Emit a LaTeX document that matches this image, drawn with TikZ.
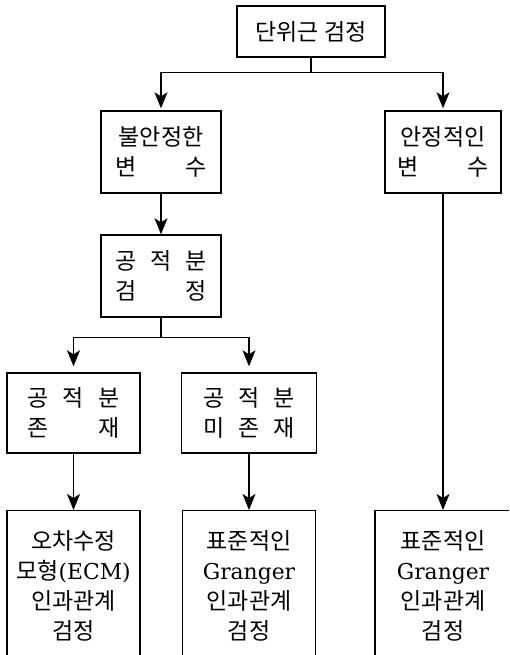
\documentclass[tikz,border=0pt]{standalone}
\usepackage{fontspec}
\setmainfont{Noto Sans CJK KR}
\newfontfamily\lat{DejaVu Serif}[Scale=0.95]
\usetikzlibrary{arrows.meta}
\newcommand{\spreadrow}[1]{\makebox[4em]{#1}}
\tikzset{
	>={Stealth[length=16pt,width=13pt,inset=4pt]},
	box/.style={draw, line width=1.4pt, align=center, inner sep=0pt,
		font=\fontsize{23}{30}\selectfont},
	link/.style={line width=1.2pt}
}
\begin{document}
\begin{tikzpicture}[x=1pt, y=-1pt]
	\useasboundingbox (0,0) rectangle (509,655);
	\clip (0,0) rectangle (509,655);
	% upper part
	\node[box, minimum width=148pt, minimum height=51pt] (root) at (311,31.5) {단위근 검정};
	\node[box, minimum width=120pt, minimum height=82pt] (unst) at (161,152) {불안정한\\\spreadrow{변\hfill 수}};
	\node[box, minimum width=116pt, minimum height=82pt] (stab) at (443,152) {안정적인\\\spreadrow{변\hfill 수}};
	\node[box, minimum width=120pt, minimum height=82pt] (coint) at (161,276) {\spreadrow{공\hfill 적\hfill 분}\\\spreadrow{검\hfill 정}};
	\node[box, minimum width=133pt, minimum height=80pt] (exist) at (73.5,413) {\spreadrow{공\hfill 적\hfill 분}\\\spreadrow{존\hfill 재}};
	\node[box, minimum width=135pt, minimum height=80pt] (noex) at (249,413) {\spreadrow{공\hfill 적\hfill 분}\\\spreadrow{미\hfill 존\hfill 재}};
	% lower part, cut by the page edge
	\begin{scope}[every node/.style={box, anchor=north, minimum height=151pt}]
		\node[minimum width=133pt] (ecm) at (73.5,510) {오차수정\\모형{\lat(ECM)}\\인과관계\\검정};
		\node[minimum width=133pt] (gr1) at (249,510) {표준적인\\{\lat Granger}\\인과관계\\검정};
		\node[minimum width=136pt] (gr2) at (443,510) {표준적인\\{\lat Granger}\\인과관계\\검정};
	\end{scope}
	% connectors
	\draw[link] (root.south) -- ++(0,15) coordinate (fork);
	\foreach \dest in {unst,stab} {
		\draw[link, ->, shorten >=2pt] (fork) -| (\dest.north);
	}
	\draw[link, ->] (unst) -- (coint);
	\draw[link] (coint.south) -- ++(0,20) coordinate (split);
	\foreach \dest in {exist,noex} {
		\draw[link, ->, shorten >=6pt] (split) -| (\dest.north);
	}
	\foreach \from/\dest in {exist/ecm, noex/gr1, stab/gr2} {
		\draw[link, ->] (\from) -- (\dest);
	}
\end{tikzpicture}
\end{document}
